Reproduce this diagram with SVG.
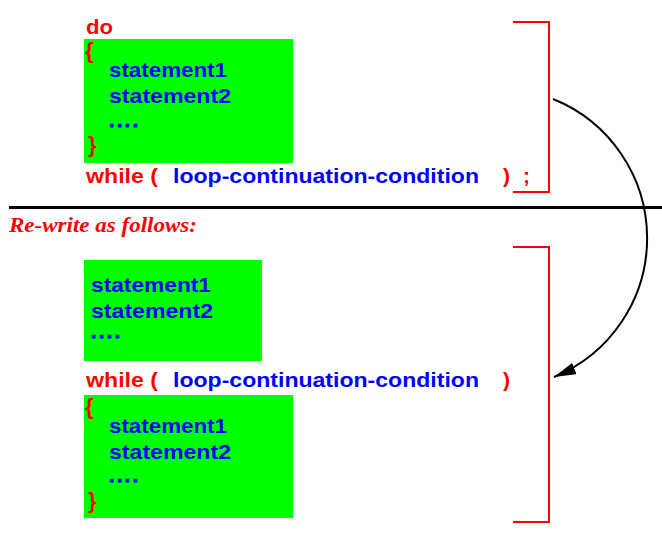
<svg xmlns="http://www.w3.org/2000/svg" width="662" height="538" viewBox="0 0 662 538">
<defs>
<style>
.kw{font-family:"Liberation Sans",Arial,sans-serif;font-weight:bold;font-size:21px;fill:#ff0000}
.br{font-family:"Liberation Sans",Arial,sans-serif;font-weight:bold;font-size:22px;fill:#ff0000}
.st{font-family:"Liberation Sans",Arial,sans-serif;font-weight:bold;font-size:21px;fill:#0000ff}
.dots{font-family:"Liberation Sans",Arial,sans-serif;font-weight:bold;font-size:19px;fill:#0000ff;stroke:#0000ff;stroke-width:1}
.box{fill:#00ff00;stroke:none}
.bracket{fill:none;stroke:#ff0000;stroke-width:2}
.note{font-family:"Liberation Serif","Times New Roman",serif;font-weight:bold;font-style:italic;font-size:21px;fill:#ff0000}
</style>
<marker id="arrow" viewBox="0 -6 22 12" markerWidth="22" markerHeight="12" refX="22" refY="0" orient="auto" markerUnits="userSpaceOnUse">
<path d="M0,-6 L22,0 L0,6 z" fill="#000000"/>
</marker>
</defs>
<rect width="662" height="538" fill="#ffffff"/>

<g id="do-while">
<text class="kw" x="86" y="34" textLength="27" lengthAdjust="spacingAndGlyphs">do</text>
<rect class="box" x="84" y="39" width="209" height="124"/>
<text class="br" x="85" y="58">{</text>
<text class="st" x="109" y="77" textLength="118" lengthAdjust="spacingAndGlyphs">statement1</text>
<text class="st" x="109" y="103" textLength="122" lengthAdjust="spacingAndGlyphs">statement2</text>
<text class="dots" x="109" y="127" textLength="29" lengthAdjust="spacing">....</text>
<text class="br" x="88" y="152">}</text>
<text class="kw" x="86" y="183" textLength="72" lengthAdjust="spacingAndGlyphs">while (</text>
<text class="st" x="173" y="183" textLength="306" lengthAdjust="spacingAndGlyphs">loop-continuation-condition</text>
<text class="kw" x="503" y="183">)</text>
<text class="kw" x="523" y="183">;</text>
</g>

<g id="bracket-top">
<polyline class="bracket" points="513,22 549,22 549,192 513,192"/>
</g>

<g id="divider">
<line x1="9" y1="207.5" x2="662" y2="207.5" stroke="#000000" stroke-width="3"/>
<text class="note" x="9" y="232" textLength="188" lengthAdjust="spacingAndGlyphs">Re-write as follows:</text>
</g>

<g id="rewrite">
<rect class="box" x="84" y="260" width="178" height="101"/>
<text class="st" x="91" y="292" textLength="120" lengthAdjust="spacingAndGlyphs">statement1</text>
<text class="st" x="91" y="318" textLength="122" lengthAdjust="spacingAndGlyphs">statement2</text>
<text class="dots" x="91" y="338" textLength="29" lengthAdjust="spacing">....</text>
<text class="kw" x="86" y="387" textLength="72" lengthAdjust="spacingAndGlyphs">while (</text>
<text class="st" x="173" y="387" textLength="306" lengthAdjust="spacingAndGlyphs">loop-continuation-condition</text>
<text class="kw" x="503" y="387">)</text>
<rect class="box" x="84" y="395" width="209" height="123"/>
<text class="br" x="85" y="414">{</text>
<text class="st" x="109" y="433" textLength="118" lengthAdjust="spacingAndGlyphs">statement1</text>
<text class="st" x="109" y="459" textLength="122" lengthAdjust="spacingAndGlyphs">statement2</text>
<text class="dots" x="109" y="482" textLength="29" lengthAdjust="spacing">....</text>
<text class="br" x="88" y="508">}</text>
</g>

<g id="bracket-bottom">
<polyline class="bracket" points="513,247 549,247 549,522 513,522"/>
</g>

<g id="connectors">
<path d="M553,99 A150,150 0 0 1 554,377" fill="none" stroke="#000000" stroke-width="2" marker-end="url(#arrow)"/>
</g>
</svg>
